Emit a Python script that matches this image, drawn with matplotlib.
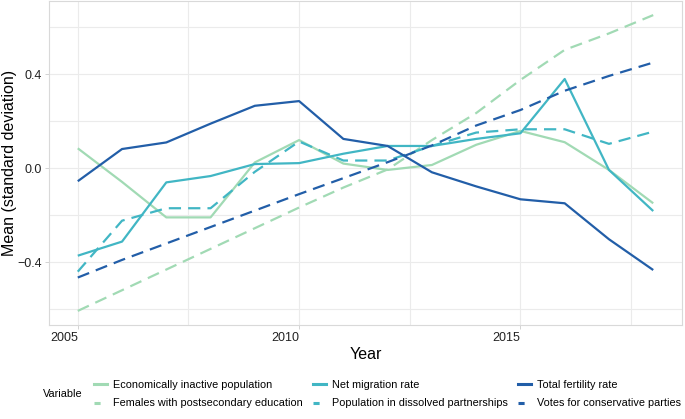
import matplotlib
matplotlib.use("Agg")
import matplotlib.pyplot as plt
from matplotlib.lines import Line2D

plt.rcParams["font.family"] = ["Liberation Sans", "DejaVu Sans"]

# 数据
years = list(range(2005, 2019))

econ_inactive = [0.085, -0.058, -0.209, -0.209, 0.025, 0.12, 0.02, -0.007, 0.014, 0.10, 0.159, 0.111, -0.007, -0.149]
females_postsec = [-0.607, -0.519, -0.431, -0.343, -0.255, -0.167, -0.082, -0.005, 0.12, 0.235, 0.376, 0.504, 0.574, 0.652]
net_migration = [-0.372, -0.312, -0.06, -0.033, 0.018, 0.022, 0.062, 0.095, 0.095, 0.125, 0.149, 0.38, -0.007, -0.182]
dissolved = [-0.44, -0.223, -0.17, -0.17, -0.015, 0.114, 0.033, 0.033, 0.095, 0.152, 0.166, 0.166, 0.104, 0.156]
fertility = [-0.055, 0.082, 0.11, 0.19, 0.266, 0.286, 0.125, 0.095, -0.017, -0.077, -0.132, -0.149, -0.302, -0.433]
votes = [-0.465, -0.39, -0.32, -0.25, -0.18, -0.11, -0.042, 0.026, 0.097, 0.182, 0.248, 0.33, 0.393, 0.45]

labels = ["Economically inactive population", "Females with postsecondary education",
          "Net migration rate", "Population in dissolved partnerships",
          "Total fertility rate", "Votes for conservative parties"]
series = [econ_inactive, females_postsec, net_migration, dissolved, fertility, votes]
colors = ["#a1dab4", "#a1dab4", "#41b6c4", "#41b6c4", "#225ea8", "#225ea8"]
dashed = [False, True, False, True, False, True]

x_ticks = [2005, 2010, 2015]
x_minor = [2007.5, 2012.5, 2017.5]
y_ticks = [-0.4, 0.0, 0.4]
y_minor = [-0.6, -0.2, 0.2, 0.6]

W, H = 685, 419
fig = plt.figure(figsize=(W / 100, H / 100), dpi=100)
ax = fig.add_axes([49 / W, (H - 325) / H, 633 / W, 324 / H])

grid_col = "#ebebeb"
for v in x_ticks + x_minor:
    ax.axvline(v, color=grid_col, lw=0.8, zorder=0)
for v in y_ticks + y_minor:
    ax.axhline(v, color=grid_col, lw=0.8, zorder=0)

for ys, lab, c, d in zip(series, labels, colors, dashed):
    line, = ax.plot(years, ys, color=c, lw=1.6, solid_capstyle="butt", label=lab)
    if d:
        line.set_dashes((5.5, 3.2))

ax.set_xlim(2004.35, 2018.65)
ax.set_ylim(-0.667, 0.712)
ax.set_xticks(x_ticks)
ax.set_xticklabels([str(t) for t in x_ticks], ha="right")
ax.set_yticks(y_ticks)
ax.set_yticklabels(["\u22120.4", "0.0", "0.4"])
ax.tick_params(length=3, width=0.6, color="#cccccc", labelsize=9, labelcolor="#222222", pad=2)
for s in ax.spines.values():
    s.set_color("#d9d9d9")
    s.set_linewidth(0.8)

ax.set_xlabel("Year", fontsize=11.5, labelpad=2)
ax.set_ylabel("Mean (standard deviation)", fontsize=11.5, labelpad=0.5)

# 图例
leg_handles = []
for lab, c, d in zip(labels, colors, dashed):
    h = Line2D([], [], color=c, lw=2.2)
    if d:
        h.set_dashes((2, 2.5))
    leg_handles.append(h)
fig.legend(handles=leg_handles, labels=labels, ncol=3, loc="center left",
           bbox_to_anchor=(84 / W, 1 - 394 / H), frameon=False, fontsize=7.8,
           handlelength=1.2, handletextpad=0.6, columnspacing=0.9, labelspacing=0.8)
fig.text(43 / W, 1 - 394 / H, "Variable", fontsize=7.8, va="center", ha="left")

fig.savefig("out.png", dpi=100)
